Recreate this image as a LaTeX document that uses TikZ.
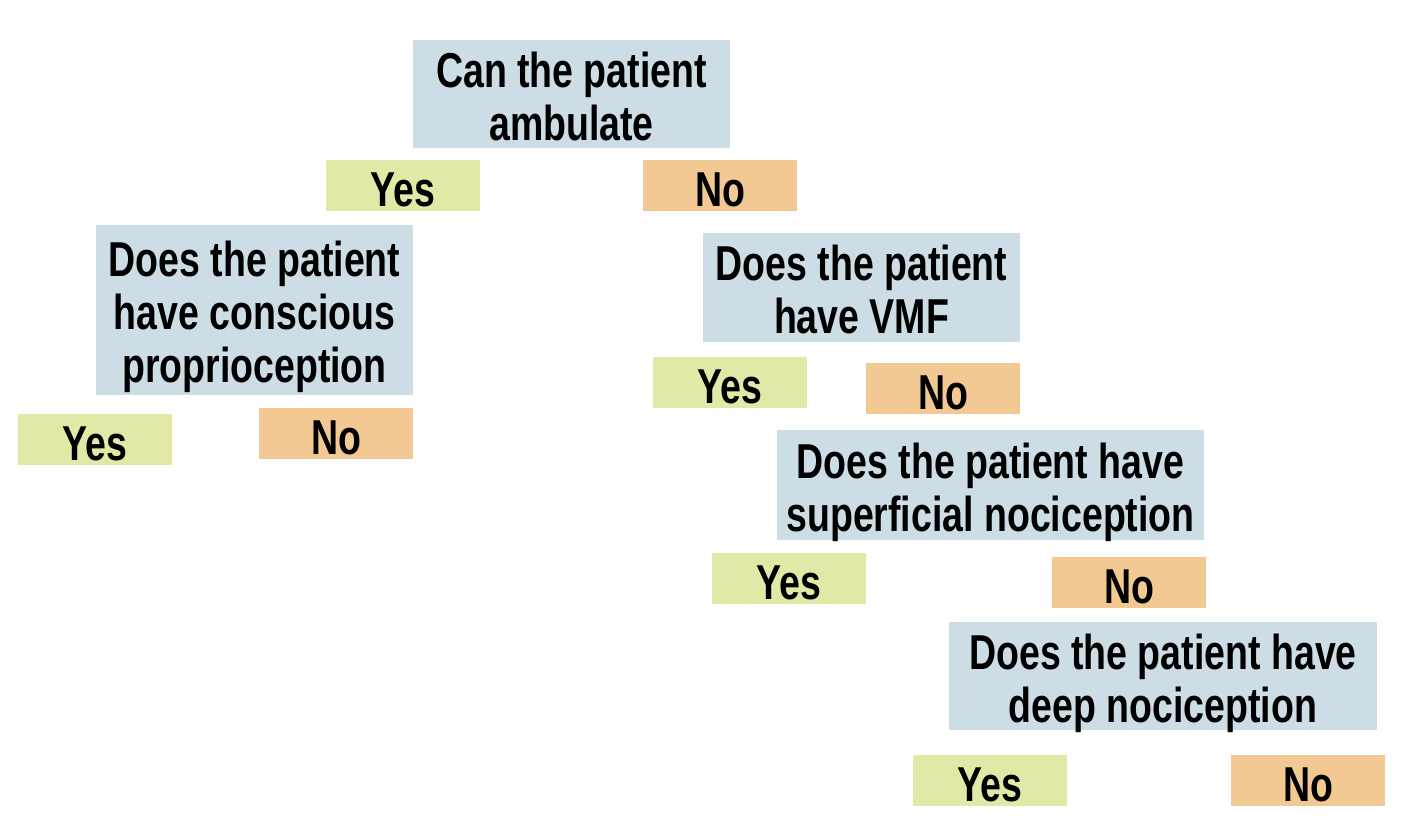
\documentclass[tikz,border=0pt]{standalone}
\usepackage{fontspec}
\newfontfamily\cond{Liberation Sans Bold}[FakeStretch=0.765]
\definecolor{qblue}{HTML}{CCDDE6}
\definecolor{ygreen}{HTML}{E2E9A6}
\definecolor{norange}{HTML}{F3C993}
\newcommand\qlines[1]{\raisebox{-9pt}[\height][\depth]{\begin{tabular}{@{}c@{}}#1\end{tabular}}}
\tikzset{
  base/.style={inner sep=0pt, font=\cond\fontsize{49}{53}\selectfont, text=black},
  qbox/.style={base, fill=qblue},
  ansbox/.style={base, minimum width=154pt, minimum height=51pt,
    execute at begin node={\rule{0pt}{43pt}}},
  yesbox/.style={ansbox, fill=ygreen},
  nobox/.style={ansbox, fill=norange}
}
\begin{document}
\begin{tikzpicture}[x=1pt,y=-1pt]
\useasboundingbox[fill=white] (0,0) rectangle (1402,828);
\node[qbox, minimum width=317pt, minimum height=108pt] (q1) at (571.5,94) {\qlines{Can the patient\\ambulate}};
\node[yesbox] (y1) at (403,185.5) {Yes};
\node[nobox] (n1) at (720,185.5) {No};
\node[qbox, minimum width=317pt, minimum height=170pt] (q2) at (254.5,310) {\qlines{Does the patient\\have conscious\\proprioception}};
\node[yesbox] (y2) at (95,439.5) {Yes};
\node[nobox] (n2) at (336,433.5) {No};
\node[qbox, minimum width=317pt, minimum height=109pt] (q3) at (861.5,287.5) {\qlines{Does the patient\\have VMF}};
\node[yesbox] (y3) at (730,382.5) {Yes};
\node[nobox] (n3) at (943,388.5) {No};
\node[qbox, minimum width=427pt, minimum height=110pt] (q4) at (990.5,485) {\qlines{Does the patient have\\superficial nociception}};
\node[yesbox] (y4) at (789,578.5) {Yes};
\node[nobox] (n4) at (1129,582.5) {No};
\node[qbox, minimum width=428pt, minimum height=108pt] (q5) at (1163,676) {\qlines{Does the patient have\\deep nociception}};
\node[yesbox] (y5) at (990,780.5) {Yes};
\node[nobox] (n5) at (1308,780.5) {No};
\end{tikzpicture}
\end{document}
